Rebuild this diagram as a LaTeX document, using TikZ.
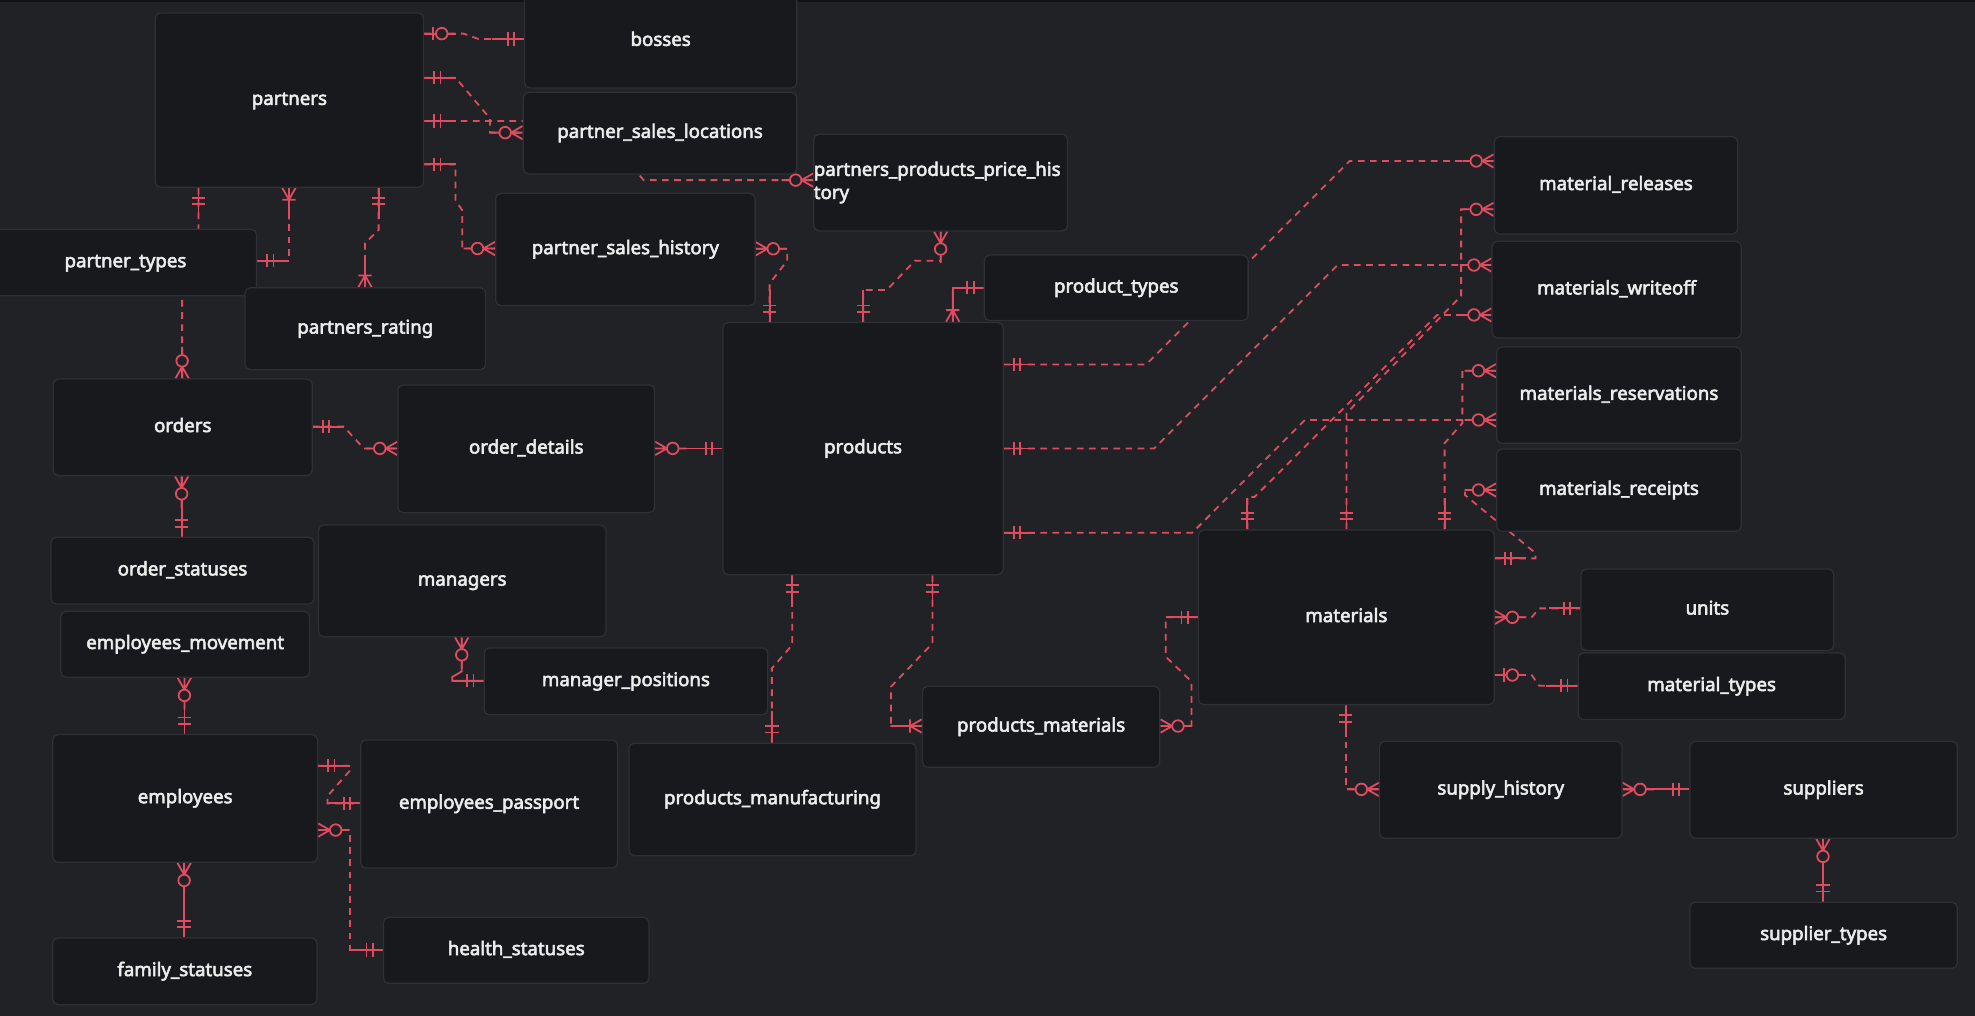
\documentclass[tikz,border=0pt]{standalone}
\usepackage{fontspec}
\setmainfont{Noto Sans}
\newfontfamily\tablefamily{Noto Sans}[FakeBold=3]

\definecolor{canvas}{RGB}{33,34,38}
\definecolor{topband}{RGB}{18,18,20}
\definecolor{boxfill}{RGB}{24,25,28}
\definecolor{boxedge}{RGB}{46,48,53}
\definecolor{relred}{RGB}{224,75,96}
\definecolor{labeltext}{RGB}{236,236,236}

\pgfdeclarelayer{background}
\pgfdeclarelayer{edges}
\pgfsetlayers{background,edges,main}

\newcommand*\pxunit{0.6pt}
\newcommand*\tablefont{\tablefamily\fontsize{8.9}{11}\selectfont}
\tikzset{entity/.style 2 args={
    draw=boxedge,
    line width=0.6pt,
    fill=boxfill,
    rounded corners=2.5pt,
    anchor=north west,
    inner sep=0pt,
    minimum width=#1*\pxunit,
    minimum height=#2*\pxunit,
    font=\tablefont,
    text=labeltext,
    text height=6.4pt,
    text depth=1.9pt,
    align=center
}}
\tikzset{
    idrel/.style={draw=relred, line width=0.85pt},
    nonid/.style={idrel, dash pattern=on 3.2pt off 2.6pt},
    pics/one/.style={code={
        \draw[idrel] (0,0) -- (25,0) (8,-5.3) -- (8,5.3) (13,-5.3) -- (13,5.3);
    }},
    pics/zeroone/.style={code={
        \draw[idrel] (0,0) -- (9,0) (18.5,0) -- (25,0) (7,-5.3) -- (7,5.3);
        \draw[idrel, fill=canvas] (13.9,0) circle[radius=4.6];
    }},
    pics/onemany/.style={code={
        \draw[idrel] (0,-5.3) -- (9.3,0) -- (0,5.3) (0,0) -- (25,0) (9.3,-5.3) -- (9.3,5.3);
    }},
    pics/zeromany/.style={code={
        \draw[idrel] (0,-5.3) -- (9.3,0) -- (0,5.3) (0,0) -- (9.3,0) (18.5,0) -- (25,0);
        \draw[idrel, fill=canvas] (13.9,0) circle[radius=4.6];
    }}
}

\begin{document}
\begin{tikzpicture}[x=\pxunit,y=-\pxunit]

    \begin{pgfonlayer}{background}
        \fill[canvas] (0,0) rectangle (1568,806.6);
        \fill[topband] (0,0) rectangle (1568,1.8);
    \end{pgfonlayer}
    \useasboundingbox (0,0) rectangle (1568,806.6);

    % Tables, left column first.
    \node[entity={213.1}{138.4}] (partners) at (122.7,9.8) {partners};
    \node[entity={216}{74.3}] (bosses) at (416,-5) {bosses};
    \node[entity={217}{64.8}] (saleslocations) at (415,72.8) {partner\_sales\_locations};
    \node[entity={201.4}{76.8}, align=left, text width={201.4*\pxunit}, text height=, text depth=,
        yshift=-1.5*\pxunit] (pricehistory) at (645.6,104.5)
        {partners\_products\_price\_his\\tory};
    \node[entity={206}{89}] (saleshistory) at (393,153) {partner\_sales\_history};
    \node[entity={208.2}{52.6}] (partnertypes) at (-5,181.6) {partner\_types};
    \node[entity={191}{65}] (rating) at (194,228) {partners\_rating};
    \node[entity={209.4}{52}] (producttypes) at (781,202) {product\_types};
    \node[entity={222.4}{200.2}] (products) at (573.5,255.5) {products};
    \node[entity={205.6}{76.7}] (orders) at (41.8,300.4) {orders};
    \node[entity={203.8}{101.4}] (orderdetails) at (315.4,305.1) {order\_details};
    \node[entity={208.8}{52.9}] (orderstatuses) at (40,426.1) {order\_statuses};
    \node[entity={228.3}{88.7}] (managers) at (252.3,416.3) {managers};
    \node[entity={197.4}{52.4}] (movement) at (47.8,484.8) {employees\_movement};
    \node[entity={225.1}{53}] (positions) at (383.9,513.9) {manager\_positions};
    \node[entity={210.2}{101.4}] (employees) at (41.4,582.7) {employees};
    \node[entity={203.9}{101.6}] (passport) at (285.8,587) {employees\_passport};
    \node[entity={228}{89.2}] (manufacturing) at (498.8,589.6) {products\_manufacturing};
    \node[entity={188.5}{64.3}] (prodmaterials) at (731.8,544.4) {products\_materials};
    \node[entity={210.7}{52.4}] (health) at (304,727.8) {health\_statuses};
    \node[entity={209.7}{52.9}] (family) at (41.4,744.2) {family\_statuses};

    % Material side.
    \node[entity={193.1}{77.2}] (releases) at (1185.9,108) {material\_releases};
    \node[entity={197.8}{76.7}] (writeoff) at (1184.1,191.1) {materials\_writeoff};
    \node[entity={194.2}{76.4}] (reservations) at (1187.7,275) {materials\_reservations};
    \node[entity={194.2}{65.4}] (receipts) at (1187.7,355.9) {materials\_receipts};
    \node[entity={234.8}{138.6}] (materials) at (951,420.3) {materials};
    \node[entity={200.6}{64.8}] (units) at (1254.7,451.2) {units};
    \node[entity={212}{52.9}] (materialtypes) at (1252.4,517.9) {material\_types};
    \node[entity={192.5}{77}] (supply) at (1094.7,588) {supply\_history};
    \node[entity={212.2}{77}] (suppliers) at (1341.2,588) {suppliers};
    \node[entity={212.2}{52.5}] (suppliertypes) at (1341.2,715.8) {supplier\_types};

    \begin{pgfonlayer}{edges}
    % partners
    \draw[nonid] (partners.east |- 0,26.7) -- (368,26.7) -- (380,31) -- (bosses.west |- 0,31);
    \pic at (partners.east |- 0,26.7) {zeroone};
    \pic[rotate=180] at (bosses.west |- 0,31) {one};

    \draw[nonid] (partners.east |- 0,61.7) -- (361.7,61.7) -- (389,94) -- (389,105.3)
        -- (saleslocations.west |- 0,105.3);
    \pic at (partners.east |- 0,61.7) {one};
    \pic[rotate=180] at (saleslocations.west |- 0,105.3) {zeromany};

    \draw[nonid] (partners.east |- 0,96) -- (505,96) -- (505,136) -- (511,143) -- (pricehistory.west |- 0,143);
    \pic at (partners.east |- 0,96) {one};
    \pic[rotate=180] at (pricehistory.west |- 0,143) {zeromany};

    \draw[nonid] (partners.east |- 0,130.5) -- (361.7,130.5) -- (361.7,159) -- (367,167) -- (367,197.3)
        -- (saleshistory.west |- 0,197.3);
    \pic at (partners.east |- 0,130.5) {one};
    \pic[rotate=180] at (saleshistory.west |- 0,197.3) {zeromany};

    \draw[nonid] (partners.south -| 157.6,0) -- (157.6,205) -- (144.6,212) -- (orders.north -| 144.6,0);
    \pic[rotate=-90] at (partners.south -| 157.6,0) {one};
    \pic[rotate=90] at (orders.north -| 144.6,0) {zeromany};

    \draw[nonid] (partners.south -| 229.4,0) -- (229.4,207) -- (partnertypes.east |- 0,207);
    \pic[rotate=-90] at (partners.south -| 229.4,0) {onemany};
    \pic at (partnertypes.east |- 0,207) {one};

    \draw[nonid] (partners.south -| 300.6,0) -- (300.6,182.6) -- (289.8,193) -- (rating.north -| 289.8,0);
    \pic[rotate=-90] at (partners.south -| 300.6,0) {one};
    \pic[rotate=90] at (rating.north -| 289.8,0) {onemany};

    % products
    \draw[nonid] (saleshistory.east |- 0,197.5) -- (625,197.5) -- (625,207) -- (611,225) -- (products.north -| 611,0);
    \pic at (saleshistory.east |- 0,197.5) {zeromany};
    \pic[rotate=90] at (products.north -| 611,0) {one};

    \draw[nonid] (pricehistory.south -| 746.8,0) -- (746.8,207) -- (726.4,207) -- (704,230.2) -- (685.4,230.2)
        -- (products.north -| 685.4,0);
    \pic[rotate=-90] at (pricehistory.south -| 746.8,0) {zeromany};
    \pic[rotate=90] at (products.north -| 685.4,0) {one};

    \draw[idrel] (producttypes.west |- 0,228.4) -- (756.4,228.4) -- (products.north -| 756.4,0);
    \pic[rotate=180] at (producttypes.west |- 0,228.4) {one};
    \pic[rotate=90] at (products.north -| 756.4,0) {onemany};

    \draw[nonid] (products.east |- 0,289.3) -- (910,289.3) -- (1071.5,127.8) -- (releases.west |- 0,127.8);
    \pic at (products.east |- 0,289.3) {one};
    \pic[rotate=180] at (releases.west |- 0,127.8) {zeromany};

    \draw[nonid] (products.east |- 0,356) -- (916.3,356) -- (1062,210.4) -- (writeoff.west |- 0,210.4);
    \pic at (products.east |- 0,356) {one};
    \pic[rotate=180] at (writeoff.west |- 0,210.4) {zeromany};

    \draw[nonid] (products.east |- 0,422.9) -- (946.6,422.9) -- (1036,333.4) -- (reservations.west |- 0,333.4);
    \pic at (products.east |- 0,422.9) {one};
    \pic[rotate=180] at (reservations.west |- 0,333.4) {zeromany};

    \draw[nonid] (products.south -| 740.3,0) -- (740.3,510.8) -- (707.3,545.2) -- (707.3,576.4)
        -- (prodmaterials.west |- 0,576.4);
    \pic[rotate=-90] at (products.south -| 740.3,0) {one};
    \pic[rotate=180] at (prodmaterials.west |- 0,576.4) {onemany};

    \draw[nonid] (products.south -| 629,0) -- (629,512) -- (612.8,530.6) -- (manufacturing.north -| 612.8,0);
    \pic[rotate=-90] at (products.south -| 629,0) {one};
    \pic[rotate=90] at (manufacturing.north -| 612.8,0) {one};

    % materials
    \draw[nonid] (materials.north -| 990.3,0) -- (990.3,394.5) -- (996,394.5) -- (1141,250) -- (writeoff.west |- 0,250);
    \pic[rotate=90] at (materials.north -| 990.3,0) {one};
    \pic[rotate=180] at (writeoff.west |- 0,250) {zeromany};

    \draw[nonid] (materials.north -| 1069,0) -- (1069,328) -- (1160,235) -- (1160,166.2) -- (releases.west |- 0,166.2);
    \pic[rotate=90] at (materials.north -| 1069,0) {one};
    \pic[rotate=180] at (releases.west |- 0,166.2) {zeromany};

    \draw[nonid] (materials.north -| 1146.9,0) -- (1146.9,351.8) -- (1161,336) -- (1161,294.3)
        -- (reservations.west |- 0,294.3);
    \pic[rotate=90] at (materials.north -| 1146.9,0) {one};
    \pic[rotate=180] at (reservations.west |- 0,294.3) {zeromany};

    \draw[nonid] (materials.east |- 0,443.3) -- (1219,443.3) -- (1219,439) -- (1163,393) -- (1163,389)
        -- (receipts.west |- 0,389);
    \pic at (materials.east |- 0,443.3) {one};
    \pic[rotate=180] at (receipts.west |- 0,389) {zeromany};

    \draw[nonid] (materials.east |- 0,490.1) -- (1216,490.1) -- (1222,483) -- (units.west |- 0,483);
    \pic at (materials.east |- 0,490.1) {zeromany};
    \pic[rotate=180] at (units.west |- 0,483) {one};

    \draw[nonid] (materials.east |- 0,535.9) -- (1216,535.9) -- (1222,544.4) -- (materialtypes.west |- 0,544.4);
    \pic at (materials.east |- 0,535.9) {zeroone};
    \pic[rotate=180] at (materialtypes.west |- 0,544.4) {one};

    \draw[nonid] (materials.west |- 0,490.1) -- (925.5,490.1) -- (925.5,521.3) -- (946,541.2) -- (946,576.4)
        -- (prodmaterials.east |- 0,576.4);
    \pic[rotate=180] at (materials.west |- 0,490.1) {one};
    \pic at (prodmaterials.east |- 0,576.4) {zeromany};

    \draw[nonid] (materials.south -| 1068.4,0) -- (1068.4,626.7) -- (supply.west |- 0,626.7);
    \pic[rotate=-90] at (materials.south -| 1068.4,0) {one};
    \pic[rotate=180] at (supply.west |- 0,626.7) {zeromany};

    \draw[idrel] (supply.east |- 0,626.7) -- (suppliers.west |- 0,626.7);
    \pic at (supply.east |- 0,626.7) {zeromany};
    \pic[rotate=180] at (suppliers.west |- 0,626.7) {one};

    \draw[idrel] (suppliers.south -| 1447.3,0) -- (suppliertypes.north -| 1447.3,0);
    \pic[rotate=-90] at (suppliers.south -| 1447.3,0) {zeromany};
    \pic[rotate=90] at (suppliertypes.north -| 1447.3,0) {one};

    % orders
    \draw[nonid] (orders.east |- 0,338.7) -- (272.9,338.7) -- (288.8,356) -- (orderdetails.west |- 0,356);
    \pic at (orders.east |- 0,338.7) {one};
    \pic[rotate=180] at (orderdetails.west |- 0,356) {zeromany};

    \draw[idrel] (orderdetails.east |- 0,356) -- (products.west |- 0,356);
    \pic at (orderdetails.east |- 0,356) {zeromany};
    \pic[rotate=180] at (products.west |- 0,356) {one};

    \draw[idrel] (orders.south -| 144.2,0) -- (orderstatuses.north -| 144.2,0);
    \pic[rotate=-90] at (orders.south -| 144.2,0) {zeromany};
    \pic[rotate=90] at (orderstatuses.north -| 144.2,0) {one};

    % employees
    \draw[idrel] (managers.south -| 366.6,0) -- (366.6,533) -- (359,537.5) -- (359,540.4) -- (positions.west |- 0,540.4);
    \pic[rotate=-90] at (managers.south -| 366.6,0) {zeromany};
    \pic[rotate=180] at (positions.west |- 0,540.4) {one};

    \draw[idrel] (movement.south -| 146.4,0) -- (employees.north -| 146.4,0);
    \pic[rotate=-90] at (movement.south -| 146.4,0) {zeromany};
    \pic[rotate=90] at (employees.north -| 146.4,0) {one};

    \draw[idrel] (employees.south -| 146.2,0) -- (family.north -| 146.2,0);
    \pic[rotate=-90] at (employees.south -| 146.2,0) {zeromany};
    \pic[rotate=90] at (family.north -| 146.2,0) {one};

    \draw[nonid] (employees.east |- 0,607.9) -- (277.6,607.9) -- (277.6,612) -- (260,632) -- (260,637.8)
        -- (passport.west |- 0,637.8);
    \pic at (employees.east |- 0,607.9) {one};
    \pic[rotate=180] at (passport.west |- 0,637.8) {one};

    \draw[nonid] (employees.east |- 0,659) -- (277.6,659) -- (277.6,754.2) -- (health.west |- 0,754.2);
    \pic at (employees.east |- 0,659) {zeromany};
    \pic[rotate=180] at (health.west |- 0,754.2) {one};
    \end{pgfonlayer}

\end{tikzpicture}
\end{document}
